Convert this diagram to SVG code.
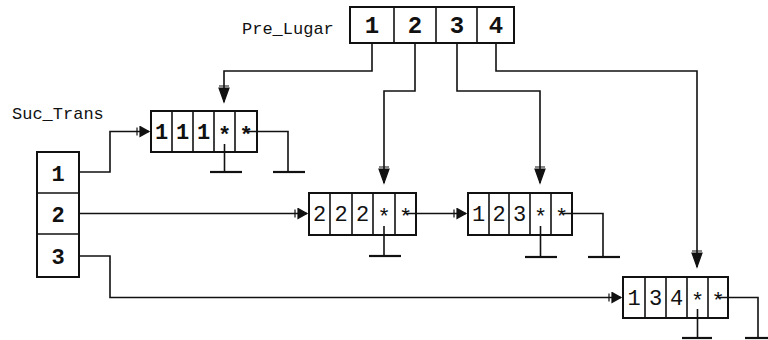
<svg xmlns="http://www.w3.org/2000/svg" width="768" height="340" viewBox="0 0 768 340">
<style>
  .box{fill:#fff;stroke:#111;stroke-width:2}
  .div{stroke:#111;stroke-width:1.6}
  .ln{fill:none;stroke:#111;stroke-width:1.6}
  .gnd{stroke:#111;stroke-width:2.2}
  .lbl{font-family:"Liberation Mono","DejaVu Sans Mono",monospace;font-size:17px;fill:#111}
  .hd{font-family:"Liberation Mono","DejaVu Sans Mono",monospace;font-size:24px;font-weight:bold;fill:#111;text-anchor:middle}
  .nd{font-family:"Liberation Mono","DejaVu Sans Mono",monospace;font-size:22px;fill:#111;text-anchor:middle}
  .st{font-family:"Liberation Mono","DejaVu Sans Mono",monospace;font-size:22px;font-weight:bold;fill:#111;text-anchor:middle}
</style>
<defs>
  <marker id="ad" markerUnits="userSpaceOnUse" markerWidth="20" markerHeight="12" refX="17" refY="6" orient="auto">
    <path d="M1,1 L1,11 M3,1 L3,11 L17,6 Z" fill="#111" stroke="#111" stroke-width="1.2"/>
  </marker>
  <marker id="ar" markerUnits="userSpaceOnUse" markerWidth="16" markerHeight="12" refX="13" refY="6" orient="auto">
    <path d="M1,2 L1,10 M4,1 L4,11 L13,6 Z" fill="#111" stroke="#111" stroke-width="1.2"/>
  </marker>
</defs>

<g id="label-pre-lugar"><text class="lbl" x="242" y="34">Pre_Lugar</text></g>
<g id="label-suc-trans"><text class="lbl" x="12" y="119">Suc_Trans</text></g>

<g id="pre-lugar">
  <rect class="box" x="350" y="7" width="164" height="36"/>
  <line class="div" x1="394" y1="7" x2="394" y2="43"/>
  <line class="div" x1="436" y1="7" x2="436" y2="43"/>
  <line class="div" x1="477" y1="7" x2="477" y2="43"/>
  <text class="hd" x="372" y="33">1</text>
  <text class="hd" x="415" y="33">2</text>
  <text class="hd" x="457" y="33">3</text>
  <text class="hd" x="496" y="33">4</text>
</g>

<g id="suc-trans">
  <rect class="box" x="37" y="152" width="42" height="125"/>
  <line class="div" x1="37" y1="193" x2="79" y2="193"/>
  <line class="div" x1="37" y1="234" x2="79" y2="234"/>
  <text class="st" x="58" y="181">1</text>
  <text class="st" x="58" y="222">2</text>
  <text class="st" x="58" y="264">3</text>
</g>

<g id="node-111">
  <rect class="box" x="151" y="111" width="106" height="41"/>
  <line class="div" x1="172" y1="111" x2="172" y2="152"/>
  <line class="div" x1="193" y1="111" x2="193" y2="152"/>
  <line class="div" x1="214" y1="111" x2="214" y2="152"/>
  <line class="div" x1="235" y1="111" x2="235" y2="152"/>
  <text class="nd" x="161.5" y="139" font-weight="bold">1</text>
  <text class="nd" x="182.5" y="139" font-weight="bold">1</text>
  <text class="nd" x="203.5" y="139" font-weight="bold">1</text>
  <text class="nd" x="224.5" y="142" font-weight="bold">*</text>
  <text class="nd" x="246" y="142" font-weight="bold">*</text>
</g>

<g id="node-222">
  <rect class="box" x="309" y="193" width="107" height="42"/>
  <line class="div" x1="330" y1="193" x2="330" y2="235"/>
  <line class="div" x1="352" y1="193" x2="352" y2="235"/>
  <line class="div" x1="373" y1="193" x2="373" y2="235"/>
  <line class="div" x1="395" y1="193" x2="395" y2="235"/>
  <text class="nd" x="319.5" y="221">2</text>
  <text class="nd" x="341" y="221">2</text>
  <text class="nd" x="362.5" y="221">2</text>
  <text class="nd" x="384" y="224">*</text>
  <text class="nd" x="405.5" y="224">*</text>
</g>

<g id="node-123">
  <rect class="box" x="468" y="193" width="104" height="42"/>
  <line class="div" x1="489" y1="193" x2="489" y2="235"/>
  <line class="div" x1="509" y1="193" x2="509" y2="235"/>
  <line class="div" x1="530" y1="193" x2="530" y2="235"/>
  <line class="div" x1="551" y1="193" x2="551" y2="235"/>
  <text class="nd" x="478.5" y="221">1</text>
  <text class="nd" x="499" y="221">2</text>
  <text class="nd" x="519.5" y="221">3</text>
  <text class="nd" x="540.5" y="224">*</text>
  <text class="nd" x="561.5" y="224">*</text>
</g>

<g id="node-134">
  <rect class="box" x="623" y="277" width="105" height="41"/>
  <line class="div" x1="645" y1="277" x2="645" y2="318"/>
  <line class="div" x1="666" y1="277" x2="666" y2="318"/>
  <line class="div" x1="687" y1="277" x2="687" y2="318"/>
  <line class="div" x1="708" y1="277" x2="708" y2="318"/>
  <text class="nd" x="634" y="305">1</text>
  <text class="nd" x="655.5" y="305">3</text>
  <text class="nd" x="676.5" y="305">4</text>
  <text class="nd" x="697.5" y="308">*</text>
  <text class="nd" x="718" y="308">*</text>
</g>

<g id="connectors">
  <polyline class="ln" points="79,172 110,172 110,131.5 149,131.5" marker-end="url(#ar)"/>
  <polyline class="ln" points="79,213.5 307,213.5" marker-end="url(#ar)"/>
  <polyline class="ln" points="79,256 110,256 110,297.5 621,297.5" marker-end="url(#ar)"/>
  <polyline class="ln" points="405.5,213.5 466,213.5" marker-end="url(#ar)"/>

  <polyline class="ln" points="372,43 372,71 224,71 224,102" marker-end="url(#ad)"/>
  <polyline class="ln" points="415,43 415,91 384,91 384,183" marker-end="url(#ad)"/>
  <polyline class="ln" points="457,43 457,91 540,91 540,183" marker-end="url(#ad)"/>
  <polyline class="ln" points="496,43 496,71 697,71 697,267" marker-end="url(#ad)"/>

  <line class="ln" x1="224.5" y1="144" x2="224.5" y2="172"/>
  <line class="gnd" x1="210" y1="172" x2="242" y2="172"/>
  <polyline class="ln" points="246,131.5 288,131.5 288,172"/>
  <line class="gnd" x1="273" y1="172" x2="305" y2="172"/>

  <line class="ln" x1="384" y1="226" x2="384" y2="256"/>
  <line class="gnd" x1="369" y1="256" x2="401" y2="256"/>

  <line class="ln" x1="540.5" y1="226" x2="540.5" y2="257"/>
  <line class="gnd" x1="525" y1="257" x2="557" y2="257"/>
  <polyline class="ln" points="561.5,213.5 603,213.5 603,257"/>
  <line class="gnd" x1="588" y1="257" x2="620" y2="257"/>

  <line class="ln" x1="697.5" y1="309" x2="697.5" y2="338"/>
  <line class="gnd" x1="682" y1="338" x2="712" y2="338"/>
  <polyline class="ln" points="718,297.5 758,297.5 758,338"/>
  <line class="gnd" x1="745" y1="338" x2="768" y2="338"/>
</g>
</svg>
